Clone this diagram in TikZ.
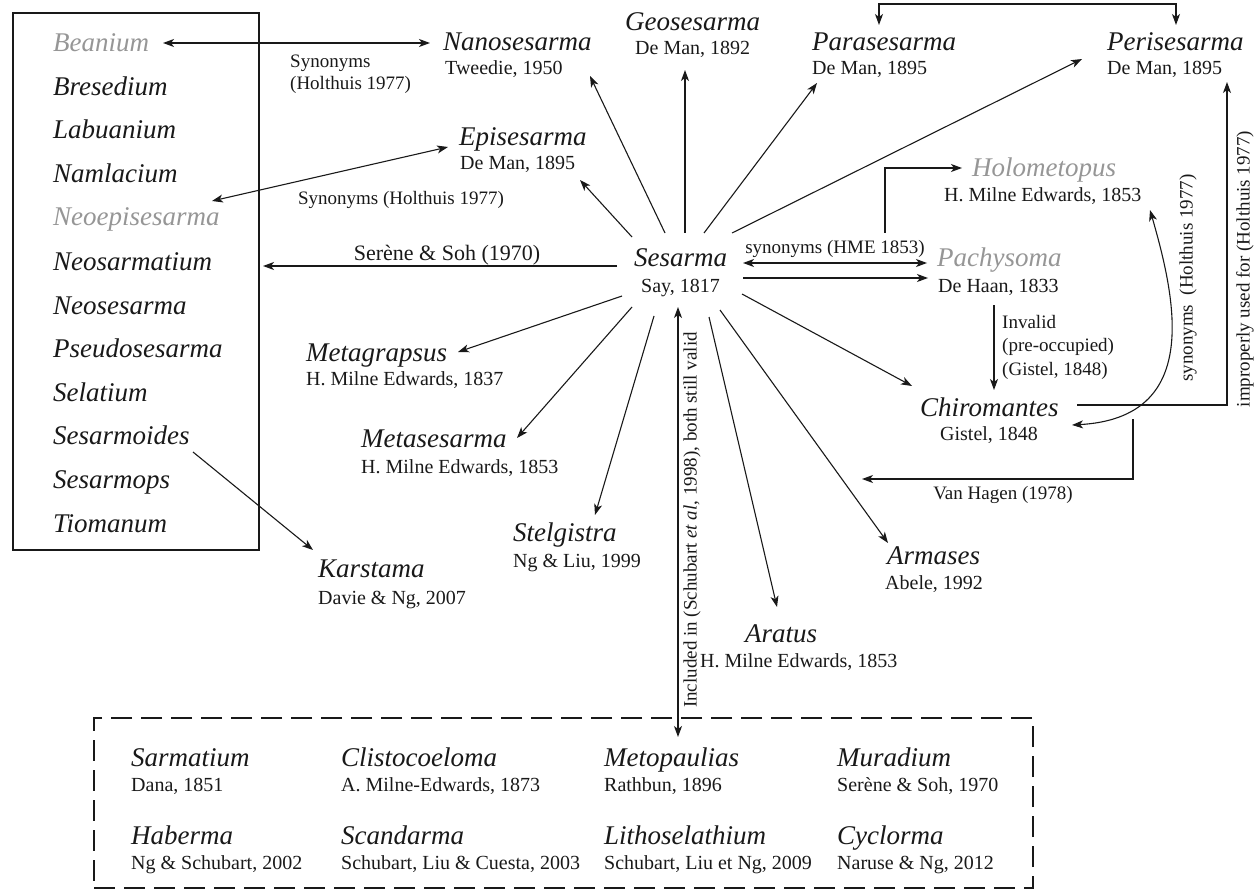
\documentclass[tikz,border=0pt]{standalone}
\usepackage{fontspec}
\setmainfont{Liberation Serif}
\usetikzlibrary{arrows.meta}
\definecolor{greytxt}{RGB}{150,150,150}
\definecolor{ink}{RGB}{25,25,25}
\begin{document}
\begin{tikzpicture}[x=1pt,y=-1pt,
  genus/.style={font=\fontsize{27}{30}\selectfont\itshape, inner sep=0pt, anchor=base west, text=ink},
  auth/.style={font=\fontsize{20}{24}\selectfont, inner sep=0pt, anchor=base west, text=ink},
  lbl/.style={font=\fontsize{19}{22}\selectfont, inner sep=0pt, text=ink},
  faded/.style={text=greytxt},
  tip/.tip={Stealth[length=11pt,width=8pt,inset=3pt]},
  conn/.style={line width=1.1pt, draw=ink, -tip},
  dconn/.style={line width=1.1pt, draw=ink, tip-tip}]
\useasboundingbox (0,0) rectangle (1255,893);

% ---------- left box ----------
\node[draw=ink, line width=2.4pt, minimum width=246, minimum height=537, inner sep=0pt] (leftbox) at (136,281.5) {};
\node[genus,faded] (beanium) at (53,52) {Beanium};
\node[genus] (bresedium) at (53,95.6) {Bresedium};
\node[genus] (labuanium) at (53,139) {Labuanium};
\node[genus] (namlacium) at (53,183) {Namlacium};
\node[genus,faded] (neoepi) at (53,226) {Neoepisesarma};
\node[genus] (neosarm) at (53,270) {Neosarmatium};
\node[genus] (neoses) at (53,314) {Neosesarma};
\node[genus] (pseudo) at (53,357) {Pseudosesarma};
\node[genus] (selatium) at (53,401) {Selatium};
\node[genus] (sesarmoides) at (53,444) {Sesarmoides};
\node[genus] (sesarmops) at (53,488) {Sesarmops};
\node[genus] (tiomanum) at (53,532) {Tiomanum};

% ---------- taxa ----------
\node[genus] (nan) at (443,51) {Nanosesarma};
\node[auth] (nanA) at (445,75) {Tweedie, 1950};
\node[genus] (geo) at (625,31) {Geosesarma};
\node[auth] (geoA) at (635,55) {De Man, 1892};
\node[genus] (epi) at (459,146) {Episesarma};
\node[auth] (epiA) at (460,170) {De Man, 1895};
\node[genus] (para) at (812,51) {Parasesarma};
\node[auth] (paraA) at (812,75) {De Man, 1895};
\node[genus] (peri) at (1107,51) {Perisesarma};
\node[auth] (periA) at (1107,75) {De Man, 1895};
\node[genus,faded] (holo) at (972,177) {Holometopus};
\node[auth] (holoA) at (944,202) {H. Milne Edwards, 1853};
\node[genus] (ses) at (634,267) {Sesarma};
\node[auth] (sesA) at (641,292) {Say, 1817};
\node[genus,faded] (pach) at (937,267) {Pachysoma};
\node[auth] (pachA) at (938,292) {De Haan, 1833};
\node[genus] (chiro) at (920,416) {Chiromantes};
\node[auth] (chiroA) at (940,440) {Gistel, 1848};
\node[genus] (metag) at (306,361) {Metagrapsus};
\node[auth] (metagA) at (306,385) {H. Milne Edwards, 1837};
\node[genus] (metas) at (361,447) {Metasesarma};
\node[auth] (metasA) at (361,473) {H. Milne Edwards, 1853};
\node[genus] (stel) at (513,541) {Stelgistra};
\node[auth] (stelA) at (513,567) {Ng \& Liu, 1999};
\node[genus] (kars) at (318,577) {Karstama};
\node[auth] (karsA) at (318,604) {Davie \& Ng, 2007};
\node[genus] (armases) at (887,564) {Armases};
\node[auth] (armasesA) at (885,589) {Abele, 1992};
\node[genus] (aratus) at (745,642) {Aratus};
\node[auth] (aratusA) at (700,667) {H. Milne Edwards, 1853};

% ---------- bottom dashed box ----------
\node[draw=ink, line width=2.4pt, dash pattern=on 21pt off 9pt, minimum width=939, minimum height=170, inner sep=0pt] (incbox) at (563.5,803) {};
\node[genus] (sarm) at (131,766) {Sarmatium};
\node[auth] (sarmA) at (131,791) {Dana, 1851};
\node[genus] (clis) at (341,766) {Clistocoeloma};
\node[auth] (clisA) at (341,791) {A. Milne-Edwards, 1873};
\node[genus] (meto) at (604,766) {Metopaulias};
\node[auth] (metoA) at (604,791) {Rathbun, 1896};
\node[genus] (mura) at (837,766) {Muradium};
\node[auth] (muraA) at (837,791) {Serène \& Soh, 1970};
\node[genus] (haber) at (131,844) {Haberma};
\node[auth] (haberA) at (131,869) {Ng \& Schubart, 2002};
\node[genus] (scand) at (341,844) {Scandarma};
\node[auth] (scandA) at (341,869) {Schubart, Liu \& Cuesta, 2003};
\node[genus] (litho) at (604,844) {Lithoselathium};
\node[auth] (lithoA) at (604,869) {Schubart, Liu et Ng, 2009};
\node[genus] (cycl) at (837,844) {Cyclorma};
\node[auth] (cyclA) at (837,869) {Naruse \& Ng, 2012};

% ---------- labels ----------
\node[lbl, anchor=west] (l1a) at (290,63) {Synonyms};
\node[lbl, anchor=west] (l1b) at (290,85) {(Holthuis 1977)};
\node[lbl] (l2) at (401,200) {Synonyms (Holthuis 1977)};
\node[lbl, font=\fontsize{22}{26}\selectfont] (l3) at (447,255) {Serène \& Soh (1970)};
\node[lbl] (l4) at (835,249) {synonyms (HME 1853)};
\node[lbl, anchor=west, align=left, font=\fontsize{19}{23.5}\selectfont] (l5) at (1002,347) {Invalid\\(pre-occupied)\\(Gistel, 1848)};
\node[lbl] (l6) at (1003,495) {Van Hagen (1978)};
\node[lbl, rotate=90] (l7) at (1188,278) {synonyms\ \ (Holthuis 1977)};
\node[lbl, rotate=90] (l8) at (1245,269) {improperly used for (Holthuis 1977)};
\node[lbl, rotate=90] (l9) at (692,520) {Included in (Schubart \textit{et al}, 1998), both still valid};

% ---------- coordinates for connector ends ----------
\coordinate (beanE) at (163,43);
\coordinate (nanW) at (430,43);
\coordinate (neoepiE) at (212,201);
\coordinate (epiW) at (448,147);
\coordinate (leftE) at (263,266);
\coordinate (sesW) at (617,266);
\coordinate (smdS) at (193,452);
\coordinate (karsN) at (313,550);
% rays
\coordinate (sEpi) at (632,237);  \coordinate (tEpi) at (580,180);
\coordinate (sNan) at (665,233);  \coordinate (tNan) at (590,76);
\coordinate (sGeo) at (685,233);  \coordinate (tGeo) at (685,70);
\coordinate (sPara) at (704,233); \coordinate (tPara) at (817,83);
\coordinate (sPeri) at (732,233); \coordinate (tPeri) at (1082,59);
\coordinate (sMetag) at (622,296); \coordinate (tMetag) at (458,352);
\coordinate (sMetas) at (632,307); \coordinate (tMetas) at (517,438);
\coordinate (sStel) at (654,316); \coordinate (tStel) at (595,515);
\coordinate (sArat) at (709,317); \coordinate (tArat) at (777,607);
\coordinate (sArma) at (720,310); \coordinate (tArma) at (888,543);
\coordinate (sChiro) at (742,294); \coordinate (tChiro) at (912,386);
\coordinate (sInc) at (678,307); \coordinate (tInc) at (678,737);
\coordinate (sPach1) at (743,263); \coordinate (tPach1) at (927,263);
\coordinate (sPach2) at (743,278); \coordinate (tPach2) at (928,278);
\coordinate (sHolo) at (885,233); \coordinate (tHolo) at (962,168);
\coordinate (pachS) at (994,305); \coordinate (chiroN) at (994,390);
\coordinate (chiroE) at (1077,405); \coordinate (periS) at (1227,82);
\coordinate (chiroC) at (1072,425); \coordinate (holoC) at (1150,210);
\coordinate (chiroSE) at (1133,419); \coordinate (vhW) at (862,479);
\coordinate (paraT) at (879,25); \coordinate (periT) at (1176,25);

% ---------- connectors ----------
\draw[dconn] (beanE) -- (nanW);
\draw[dconn] (neoepiE) -- (epiW);
\draw[conn] (sesW) -- (leftE);
\draw[conn] (smdS) -- (karsN);
\draw[conn] (sEpi) -- (tEpi);
\draw[conn] (sNan) -- (tNan);
\draw[conn] (sGeo) -- (tGeo);
\draw[conn] (sPara) -- (tPara);
\draw[conn] (sPeri) -- (tPeri);
\draw[conn] (sMetag) -- (tMetag);
\draw[conn] (sMetas) -- (tMetas);
\draw[conn] (sStel) -- (tStel);
\draw[conn] (sArat) -- (tArat);
\draw[conn] (sArma) -- (tArma);
\draw[conn] (sChiro) -- (tChiro);
\draw[dconn] (sInc) -- (tInc);
\draw[dconn] (sPach1) -- (tPach1);
\draw[conn] (sPach2) -- (tPach2);
\draw[conn] (sHolo) |- (tHolo);
\draw[conn] (pachS) -- (chiroN);
\draw[conn] (chiroE) -| (periS);
\draw[dconn] (holoC) .. controls (1176,300) and (1202,418) .. (chiroC);
\draw[conn] (chiroSE) |- (vhW);
\draw[dconn] (paraT) -- ++(0,-21) -| (periT);
\end{tikzpicture}
\end{document}
